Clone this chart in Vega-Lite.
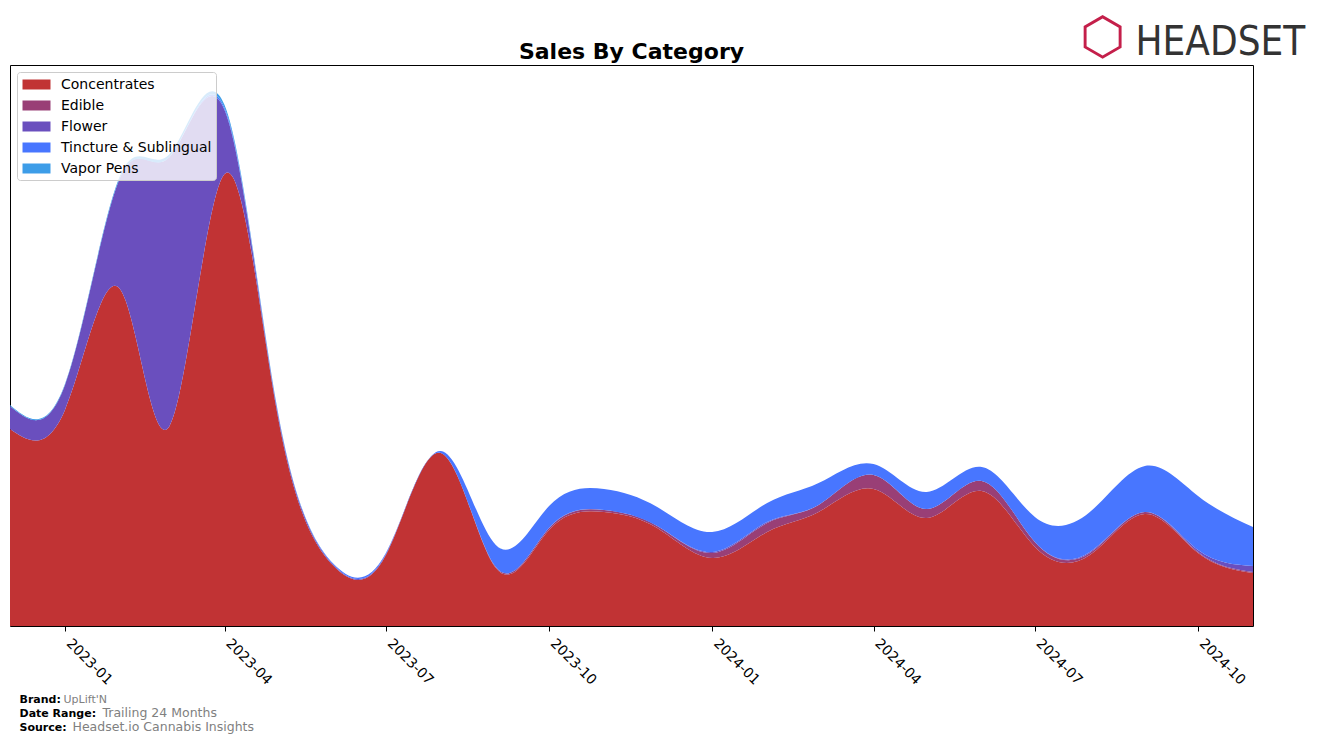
{
  "$schema": "https://vega.github.io/schema/vega-lite/v6.json",
  "width": 1243,
  "height": 561,
  "autosize": "none",
  "padding": {"left": 10, "top": 65, "right": 64, "bottom": 116},
  "background": "white",
  "config": {
    "font": "DejaVu Sans",
    "view": {"stroke": "black", "strokeWidth": 1},
    "axis": {"grid": false}
  },
  "title": {
    "text": "Sales By Category",
    "fontSize": 22,
    "fontWeight": "bold",
    "font": "DejaVu Sans",
    "color": "black",
    "anchor": "middle",
    "frame": "group",
    "offset": -53
  },
  "data": {
    "values": [
      {"date": "2022-12-01", "Concentrates": 197, "Edible": 0, "Flower": 23, "Tincture & Sublingual": 0, "Vapor Pens": 1},
      {"date": "2023-01-01", "Concentrates": 216, "Edible": 0, "Flower": 25, "Tincture & Sublingual": 0, "Vapor Pens": 1},
      {"date": "2023-02-01", "Concentrates": 337, "Edible": 0, "Flower": 111, "Tincture & Sublingual": 0, "Vapor Pens": 2},
      {"date": "2023-03-01", "Concentrates": 200, "Edible": 0, "Flower": 269, "Tincture & Sublingual": 0, "Vapor Pens": 3},
      {"date": "2023-04-01", "Concentrates": 452, "Edible": 0, "Flower": 64, "Tincture & Sublingual": 2, "Vapor Pens": 3},
      {"date": "2023-05-01", "Concentrates": 210, "Edible": 0, "Flower": 3, "Tincture & Sublingual": 1, "Vapor Pens": 1},
      {"date": "2023-06-01", "Concentrates": 61, "Edible": 0, "Flower": 1, "Tincture & Sublingual": 1, "Vapor Pens": 0},
      {"date": "2023-07-01", "Concentrates": 71, "Edible": 0, "Flower": 1, "Tincture & Sublingual": 1, "Vapor Pens": 0},
      {"date": "2023-08-01", "Concentrates": 173, "Edible": 0, "Flower": 0, "Tincture & Sublingual": 2, "Vapor Pens": 0},
      {"date": "2023-09-01", "Concentrates": 58, "Edible": 1, "Flower": 0, "Tincture & Sublingual": 22, "Vapor Pens": 0},
      {"date": "2023-10-01", "Concentrates": 96, "Edible": 2, "Flower": 0, "Tincture & Sublingual": 22, "Vapor Pens": 0},
      {"date": "2023-11-01", "Concentrates": 114, "Edible": 2, "Flower": 0, "Tincture & Sublingual": 21, "Vapor Pens": 0},
      {"date": "2023-12-01", "Concentrates": 98, "Edible": 2, "Flower": 0, "Tincture & Sublingual": 19, "Vapor Pens": 0},
      {"date": "2024-01-01", "Concentrates": 68, "Edible": 5, "Flower": 1, "Tincture & Sublingual": 20, "Vapor Pens": 0},
      {"date": "2024-02-01", "Concentrates": 94, "Edible": 9, "Flower": 1, "Tincture & Sublingual": 19, "Vapor Pens": 0},
      {"date": "2024-03-01", "Concentrates": 114, "Edible": 7, "Flower": 0, "Tincture & Sublingual": 22, "Vapor Pens": 0},
      {"date": "2024-04-01", "Concentrates": 137, "Edible": 14, "Flower": 0, "Tincture & Sublingual": 11, "Vapor Pens": 0},
      {"date": "2024-05-01", "Concentrates": 108, "Edible": 9, "Flower": 0, "Tincture & Sublingual": 17, "Vapor Pens": 0},
      {"date": "2024-06-01", "Concentrates": 135, "Edible": 10, "Flower": 0, "Tincture & Sublingual": 14, "Vapor Pens": 0},
      {"date": "2024-07-01", "Concentrates": 79, "Edible": 5, "Flower": 0, "Tincture & Sublingual": 25, "Vapor Pens": 0},
      {"date": "2024-08-01", "Concentrates": 71, "Edible": 2, "Flower": 1, "Tincture & Sublingual": 40, "Vapor Pens": 0},
      {"date": "2024-09-01", "Concentrates": 112, "Edible": 2, "Flower": 0, "Tincture & Sublingual": 46, "Vapor Pens": 0},
      {"date": "2024-10-01", "Concentrates": 73, "Edible": 1, "Flower": 2, "Tincture & Sublingual": 54, "Vapor Pens": 0},
      {"date": "2024-11-01", "Concentrates": 53, "Edible": 1, "Flower": 6, "Tincture & Sublingual": 39, "Vapor Pens": 0}
    ]
  },
  "transform": [
    {"fold": ["Concentrates", "Edible", "Flower", "Tincture & Sublingual", "Vapor Pens"], "as": ["category", "sales"]}
  ],
  "resolve": {"axis": {"x": "independent"}},
  "layer": [
    {
      "mark": {"type": "area", "interpolate": "natural", "opacity": 1},
      "encoding": {
        "x": {
          "field": "date", "type": "temporal",
          "scale": {"type": "utc", "domain": [{"year": 2022, "month": 12, "date": 1, "utc": true}, {"year": 2024, "month": 11, "date": 1, "utc": true}], "nice": false},
          "axis": {
            "orient": "bottom",
            "format": "%Y-%m",
            "tickCount": {"interval": "month", "step": 3},
            "labelAngle": 45, "labelAlign": "left", "labelBaseline": "top",
            "labelFontSize": 14, "labelColor": "black", "labelPadding": 5, "labelOffset": 8,
            "tickColor": "black", "tickSize": 5, "domain": false,
            "title": ["Brand:", "Date Range:", "Source:"],
            "titleFontSize": 11, "titleFontWeight": "bold", "titleColor": "black",
            "titleAlign": "left", "titleAnchor": "start", "titleBaseline": "alphabetic",
            "titleX": 9, "titleY": 76, "titleLineHeight": 14
          }
        },
        "y": {
          "field": "sales", "type": "quantitative", "stack": "zero",
          "scale": {"domain": [0, 561], "nice": false},
          "axis": null
        },
        "color": {
          "field": "category", "type": "nominal",
          "scale": {
            "domain": ["Concentrates", "Edible", "Flower", "Tincture & Sublingual", "Vapor Pens"],
            "range": ["#C13334", "#993F76", "#6A4FBE", "#4876FF", "#3D9DE8"]
          },
          "legend": {
            "orient": "top-left", "offset": 7, "title": null,
            "fillColor": "rgba(255,255,255,0.8)", "strokeColor": "#cccccc", "cornerRadius": 3,
            "padding": 4,
            "symbolType": "M-1.647,-0.588L1.647,-0.588L1.647,0.588L-1.647,0.588Z",
            "symbolSize": 289, "symbolStrokeWidth": 0, "symbolOpacity": 1, "symbolOffset": 7,
            "labelFontSize": 14, "labelOffset": 16, "labelColor": "black", "rowPadding": 5
          }
        },
        "order": {"field": "category", "sort": "ascending"}
      }
    },
    {
      "mark": {"type": "point", "opacity": 0},
      "encoding": {
        "x": {"field": "date", "type": "temporal",
          "axis": {"orient": "bottom", "labels": false, "ticks": false, "domain": false,
            "title": "UpLift'N", "titleFontSize": 11, "titleFontWeight": "normal", "titleColor": "#808080",
            "titleAlign": "left", "titleBaseline": "alphabetic", "titleX": 53, "titleY": 76}}
      }
    },
    {
      "mark": {"type": "point", "opacity": 0},
      "encoding": {
        "x": {"field": "date", "type": "temporal",
          "axis": {"orient": "bottom", "labels": false, "ticks": false, "domain": false,
            "title": "Trailing 24 Months", "titleFontSize": 12.5, "titleFontWeight": "normal", "titleColor": "#808080",
            "titleAlign": "left", "titleBaseline": "alphabetic", "titleX": 92, "titleY": 90}}
      }
    },
    {
      "mark": {"type": "point", "opacity": 0},
      "encoding": {
        "x": {"field": "date", "type": "temporal",
          "axis": {"orient": "bottom", "labels": false, "ticks": false, "domain": false,
            "title": "Headset.io Cannabis Insights", "titleFontSize": 12.5, "titleFontWeight": "normal", "titleColor": "#808080",
            "titleAlign": "left", "titleBaseline": "alphabetic", "titleX": 62, "titleY": 104}}
      }
    },
    {
      "mark": {"type": "point", "opacity": 0},
      "encoding": {
        "x": {"field": "date", "type": "temporal",
          "axis": {"orient": "top", "labels": false, "ticks": false, "domain": false,
            "title": "HEADSET", "titleFont": "DejaVu Sans Condensed, Roboto", "titleFontSize": 40, "titleFontWeight": "normal", "titleColor": "#333333",
            "titleAlign": "left", "titleBaseline": "alphabetic", "titleX": 1125, "titleY": -11}}
      }
    },
    {
      "mark": {"type": "point", "opacity": 0},
      "encoding": {
        "x": {"field": "date", "type": "temporal",
          "axis": {"orient": "top", "labels": false, "ticks": false, "domain": false,
            "title": "⬡", "titleFont": "DejaVu Sans", "titleFontSize": 52, "titleFontWeight": "bold", "titleColor": "#C41F4A",
            "titleAlign": "center", "titleBaseline": "alphabetic", "titleX": 1092, "titleY": -12}}
      }
    }
  ]
}
